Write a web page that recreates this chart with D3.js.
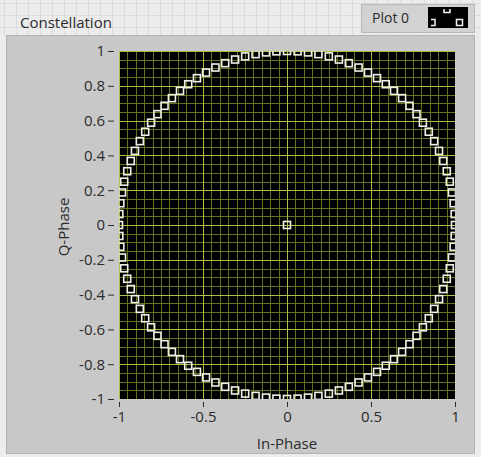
<!DOCTYPE html>
<html>
<head>
<meta charset="utf-8">
<script src="https://cdn.jsdelivr.net/npm/d3@7/dist/d3.min.js"></script>
<style>
  html, body { margin: 0; padding: 0; background: #ebebeb; }
  svg { display: block; }
  text { font-family: "Open Sans", "Noto Sans", sans-serif; fill: #2b2b2b; }
</style>
</head>
<body>
<svg id="chart" width="481" height="457"></svg>
<script>
// Constellation samples: In-Phase (I) and Q-Phase (Q) coordinates
const inPhase = [
  1.000, 0.998, 0.992, 0.982, 0.969, 0.951, 0.930, 0.905, 0.876, 0.844,
  0.809, 0.771, 0.729, 0.685, 0.637, 0.588, 0.536, 0.482, 0.426, 0.368,
  0.309, 0.249, 0.187, 0.125, 0.063, 0.000,
  -0.063, -0.125, -0.187, -0.249, -0.309, -0.368, -0.426, -0.482, -0.536, -0.588,
  -0.637, -0.685, -0.729, -0.771, -0.809, -0.844, -0.876, -0.905, -0.930, -0.951,
  -0.969, -0.982, -0.992, -0.998, -1.000,
  -0.998, -0.992, -0.982, -0.969, -0.951, -0.930, -0.905, -0.876, -0.844, -0.809,
  -0.771, -0.729, -0.685, -0.637, -0.588, -0.536, -0.482, -0.426, -0.368, -0.309,
  -0.249, -0.187, -0.125, -0.063, 0.000,
  0.063, 0.125, 0.187, 0.249, 0.309, 0.368, 0.426, 0.482, 0.536, 0.588,
  0.637, 0.685, 0.729, 0.771, 0.809, 0.844, 0.876, 0.905, 0.930, 0.951,
  0.969, 0.982, 0.992, 0.998,
  0.000
];
const qPhase = [
  0.000, 0.063, 0.125, 0.187, 0.249, 0.309, 0.368, 0.426, 0.482, 0.536,
  0.588, 0.637, 0.685, 0.729, 0.771, 0.809, 0.844, 0.876, 0.905, 0.930,
  0.951, 0.969, 0.982, 0.992, 0.998, 1.000,
  0.998, 0.992, 0.982, 0.969, 0.951, 0.930, 0.905, 0.876, 0.844, 0.809,
  0.771, 0.729, 0.685, 0.637, 0.588, 0.536, 0.482, 0.426, 0.368, 0.309,
  0.249, 0.187, 0.125, 0.063, 0.000,
  -0.063, -0.125, -0.187, -0.249, -0.309, -0.368, -0.426, -0.482, -0.536, -0.588,
  -0.637, -0.685, -0.729, -0.771, -0.809, -0.844, -0.876, -0.905, -0.930, -0.951,
  -0.969, -0.982, -0.992, -0.998, -1.000,
  -0.998, -0.992, -0.982, -0.969, -0.951, -0.930, -0.905, -0.876, -0.844, -0.809,
  -0.771, -0.729, -0.685, -0.637, -0.588, -0.536, -0.482, -0.426, -0.368, -0.309,
  -0.249, -0.187, -0.125, -0.063,
  0.000
];

const xTicks = [-1, -0.5, 0, 0.5, 1];
const yTicks = [-1, -0.8, -0.6, -0.4, -0.2, 0, 0.2, 0.4, 0.6, 0.8, 1];
const minorStep = 0.05;

const title = "Constellation";
const legendLabel = "Plot 0";
const xTitle = "In-Phase";
const yTitle = "Q-Phase";

const svg = d3.select("#chart");
const W = 481, H = 457;

// front panel background grid
const bg = svg.append("g");
bg.append("rect").attr("width", W).attr("height", H).attr("fill", "#ececec");
bg.selectAll("line.pv").data(d3.range(4, W, 12)).join("line")
  .attr("x1", d => d + 0.5).attr("x2", d => d + 0.5).attr("y1", 0).attr("y2", 36)
  .attr("stroke", "#dcdcdc");
bg.selectAll("line.ph").data([3, 15, 27]).join("line")
  .attr("x1", 0).attr("x2", W).attr("y1", d => d + 0.5).attr("y2", d => d + 0.5)
  .attr("stroke", "#dcdcdc");

// graph frame
svg.append("rect").attr("x", 6.5).attr("y", 35.5).attr("width", 468).attr("height", 418)
  .attr("fill", "#c8c8c8").attr("stroke", "#b4b4b4");

// title label
svg.append("text").attr("x", 20).attr("y", 28).attr("font-size", 15).text(title);

// legend
const lg = svg.append("g");
lg.append("rect").attr("x", 361.5).attr("y", 4.5).attr("width", 113).attr("height", 28)
  .attr("fill", "#d2d2d2").attr("stroke", "#b8b8b8");
lg.append("text").attr("x", 372).attr("y", 23).attr("font-size", 14).text(legendLabel);
lg.append("rect").attr("x", 428).attr("y", 7).attr("width", 40).attr("height", 21).attr("fill", "#000");
const defs = svg.append("defs");
defs.append("clipPath").attr("id", "legClip").append("rect")
  .attr("x", 431).attr("y", 9).attr("width", 36).attr("height", 18);
lg.append("g").attr("clip-path", "url(#legClip)")
  .selectAll("rect").data([[447, 9.5], [432, 22.5], [459.5, 22.5]]).join("rect")
  .attr("x", d => d[0] - 3).attr("y", d => d[1] - 3).attr("width", 6).attr("height", 6)
  .attr("fill", "none").attr("stroke", "#f2f2f2").attr("stroke-width", 1.5);

// scales
const x = d3.scaleLinear().domain([-1, 1]).range([119, 455]);
const y = d3.scaleLinear().domain([-1, 1]).range([399, 51]);

// plot area
const [px0, px1] = x.range();
const [py1, py0] = y.range();
svg.append("rect").attr("x", px0).attr("y", py0).attr("width", px1 - px0).attr("height", py1 - py0)
  .attr("fill", "#000");
defs.append("clipPath").attr("id", "plotClip").append("rect")
  .attr("x", px0).attr("y", py0).attr("width", px1 - px0).attr("height", py1 - py0);

const plot = svg.append("g").attr("clip-path", "url(#plotClip)");
const minor = d3.range(-1, 1.0001, minorStep).map(v => +v.toFixed(2));
const isMajorX = v => xTicks.some(t => Math.abs(t - v) < 1e-6);
const isMajorY = v => yTicks.some(t => Math.abs(t - v) < 1e-6);

plot.selectAll("line.mx").data(minor.filter(v => !isMajorX(v))).join("line")
  .attr("x1", d => Math.round(x(d)) + 0.5).attr("x2", d => Math.round(x(d)) + 0.5)
  .attr("y1", py0).attr("y2", py1).attr("stroke", "#66701a").attr("stroke-width", 1);
plot.selectAll("line.my").data(minor.filter(v => !isMajorY(v))).join("line")
  .attr("y1", d => Math.round(y(d)) + 0.5).attr("y2", d => Math.round(y(d)) + 0.5)
  .attr("x1", px0).attr("x2", px1).attr("stroke", "#66701a").attr("stroke-width", 1);
plot.selectAll("line.Mx").data(xTicks).join("line")
  .attr("x1", d => Math.round(x(d)) + 0.5).attr("x2", d => Math.round(x(d)) + 0.5)
  .attr("y1", py0).attr("y2", py1).attr("stroke", "#b3bb45").attr("stroke-width", 1);
plot.selectAll("line.My").data(yTicks).join("line")
  .attr("y1", d => Math.round(y(d)) + 0.5).attr("y2", d => Math.round(y(d)) + 0.5)
  .attr("x1", px0).attr("x2", px1).attr("stroke", "#b3bb45").attr("stroke-width", 1);

// constellation markers: hollow squares
const pts = inPhase.map((v, i) => [v, qPhase[i]]);
plot.selectAll("rect.pt").data(pts).join("rect")
  .attr("x", d => x(d[0]) - 3.5).attr("y", d => y(d[1]) - 3.5)
  .attr("width", 7).attr("height", 7)
  .attr("fill", "none").attr("stroke", "#f0f0ea").attr("stroke-width", 1.6);

// axes
const yAxis = d3.axisLeft(y).tickValues(yTicks).tickSize(6).tickPadding(3)
  .tickFormat(d => d3.format("")(+d.toFixed(1)));
const gy = svg.append("g").attr("transform", "translate(114,0)").call(yAxis);
const xAxis = d3.axisBottom(x).tickValues(xTicks).tickSize(5).tickPadding(4)
  .tickFormat(d => d3.format("")(d));
const gx = svg.append("g").attr("transform", "translate(0,402)").call(xAxis);
[gx, gy].forEach(g => {
  g.select(".domain").remove();
  g.selectAll(".tick line").attr("stroke", "#2b2b2b");
  g.selectAll(".tick text").attr("font-size", 15).attr("fill", "#2b2b2b")
    .attr("font-family", "'Open Sans', 'Noto Sans', sans-serif");
});
// minus signs as plain hyphens
gx.selectAll(".tick text").text(d => String(d).replace("\u2212", "-"));
gy.selectAll(".tick text").text(d => String(+d.toFixed(1)).replace("\u2212", "-"));

// axis titles
svg.append("text").attr("x", 287).attr("y", 449).attr("text-anchor", "middle")
  .attr("font-size", 15).text(xTitle);
svg.append("text").attr("transform", "translate(69,227) rotate(-90)").attr("text-anchor", "middle")
  .attr("font-size", 15).text(yTitle);
</script>
</body>
</html>
